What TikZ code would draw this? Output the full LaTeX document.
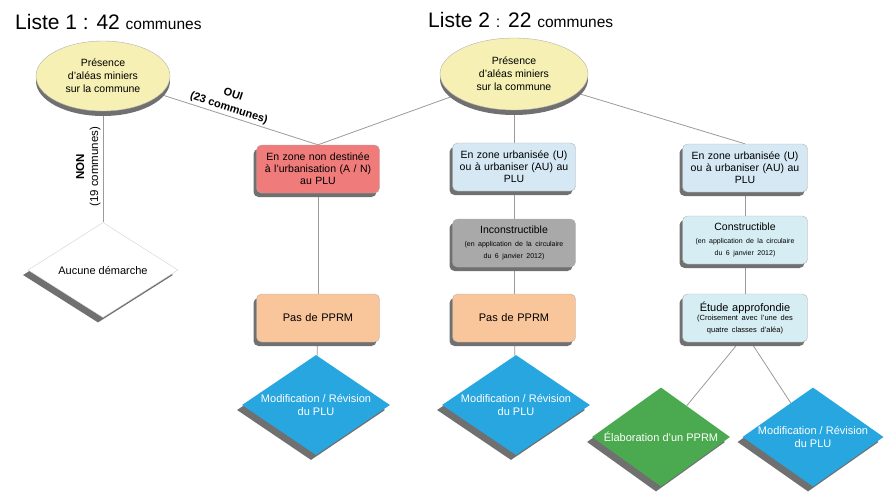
\documentclass[tikz,border=0pt]{standalone}
\usepackage{fontspec}
\setmainfont{Liberation Sans}
\usetikzlibrary{shapes.geometric,shadows,backgrounds}
\definecolor{ellfill}{HTML}{F6F0B4}
\definecolor{redfill}{HTML}{EF7B7B}
\definecolor{bluefill}{HTML}{D5E8F4}
\definecolor{grayfill}{HTML}{A9A9A9}
\definecolor{orangefill}{HTML}{F9C59A}
\definecolor{cyanfill}{HTML}{D6EEF3}
\definecolor{diablue}{HTML}{27A6E0}
\definecolor{diagreen}{HTML}{4BAA4F}
\definecolor{linec}{HTML}{9A9A9A}
\definecolor{shadowc}{HTML}{707070}
\begin{document}
\begin{tikzpicture}[x=1pt,y=-1pt,
  box/.style={draw=gray!60, rounded corners=5pt, minimum width=123pt, minimum height=48pt,
    text width=121pt, align=center, inner sep=1pt, font=\fontsize{10.5}{12}\selectfont,
    drop shadow={shadow xshift=-3pt, shadow yshift=-4pt, fill=shadowc, opacity=1}},
  ell/.style={ellipse, draw=gray!60, fill=ellfill, minimum width=134pt, minimum height=70pt,
    align=center, inner sep=0pt, font=\fontsize{10.5}{13}\selectfont,
    drop shadow={shadow xshift=0pt, shadow yshift=-5pt, fill=shadowc, opacity=1}},
  dia/.style={diamond, aspect=1.5, minimum width=148pt, minimum height=100pt, align=center,
    inner sep=0pt, text=white, font=\fontsize{11}{12.5}\selectfont,
    drop shadow={shadow xshift=-5pt, shadow yshift=-5pt, fill=shadowc, opacity=1}},
  conn/.style={draw=linec, line width=0.8pt},
  smalltxt/.style={},
  title/.style={anchor=base west, inner sep=0pt},
]
\useasboundingbox (0,0) rectangle (886,491);

% titles
\node[title] (t1) at (15,29) {\fontsize{21}{21}\selectfont Liste 1 : 42 \fontsize{15.5}{15.5}\selectfont communes};
\node[title] (t2) at (428,27) {\fontsize{21}{21}\selectfont Liste 2 {\fontsize{16}{16}\selectfont :} 22 \fontsize{15.5}{15.5}\selectfont communes};

% ellipses
\node[ell] (e1) at (103,76) {Présence\\d'aléas miniers\\sur la commune};
\node[ell, minimum width=148pt, minimum height=72pt] (e2) at (514,74) {Présence\\d'aléas miniers\\sur la commune};

% column 1
\node[box, fill=redfill] (red) at (318,169) {En zone non destinée\\à l'urbanisation (A / N)\\au PLU};
\node[box, fill=orangefill, font=\fontsize{11}{12}\selectfont] (or1) at (318,318) {Pas de PPRM};
\node[dia, fill=diablue] (mod1) at (316,405) {Modification / Révision\\du PLU};

% Aucune
\node[dia, fill=white, draw=gray!35, text=black, minimum width=150pt, minimum height=95pt] (auc) at (103,270) {Aucune démarche};

% column 2
\node[box, fill=bluefill] (blue2) at (514,167) {En zone urbanisée (U)\\ou à urbaniser (AU) au\\PLU};
\node[box, fill=grayfill] (gray) at (514,243) {Inconstructible\\[4pt]\fontsize{7}{8.5}\selectfont (en application de la circulaire\\du 6 janvier 2012)};
\node[box, fill=orangefill, font=\fontsize{11}{12}\selectfont] (or2) at (514,318) {Pas de PPRM};
\node[dia, fill=diablue] (mod2) at (516,405) {Modification / Révision\\du PLU};

% column 3
\node[box, fill=bluefill, minimum width=125pt] (blue3) at (745,168) {En zone urbanisée (U)\\ou à urbaniser (AU) au\\PLU};
\node[box, fill=cyanfill, minimum width=125pt] (cons) at (745,240) {Constructible\\[4pt]\fontsize{7}{8.5}\selectfont (en application de la circulaire\\du 6 janvier 2012)};
\node[box, fill=cyanfill, minimum width=125pt, font=\fontsize{11}{12}\selectfont] (etude) at (745,318) {Étude approfondie\\\fontsize{7.5}{9}\selectfont (Croisement avec l'une des\\quatre classes d'aléa)};
\node[dia, fill=diagreen, minimum width=138pt, minimum height=99pt] (green) at (661,437) {Élaboration d'un PPRM};
\node[dia, fill=diablue, minimum width=135pt, minimum height=99pt] (mod3) at (813,437) {Modification / Révision\\du PLU};

% connectors
\begin{scope}[on background layer]
\draw[conn] (e1) -- node[sloped, above, pos=0.42, align=center, inner sep=2pt,
   font=\bfseries\fontsize{11}{14}\selectfont] {OUI\\(23 communes)} (red.north);
\draw[conn] (auc.north) -- node[sloped, above, pos=0.5, align=center, inner sep=2pt,
   font=\fontsize{11.5}{14}\selectfont] {\textbf{NON}\\(19 communes)} (e1.south);
\draw[conn] (e2) -- (red.north);
\draw[conn] (e2.south) -- (blue2.north);
\draw[conn] (e2) -- (blue3.north);
\draw[conn] (red) -- (or1);
\draw[conn] (or1) -- (mod1);
\draw[conn] (blue2) -- (gray);
\draw[conn] (gray) -- (or2);
\draw[conn] (or2) -- (mod2);
\draw[conn] (blue3) -- (cons);
\draw[conn] (cons) -- (etude);
\draw[conn] ([xshift=-6pt]etude.south) -- (green);
\draw[conn] ([xshift=6pt]etude.south) -- (mod3);
\end{scope}
\end{tikzpicture}
\end{document}
